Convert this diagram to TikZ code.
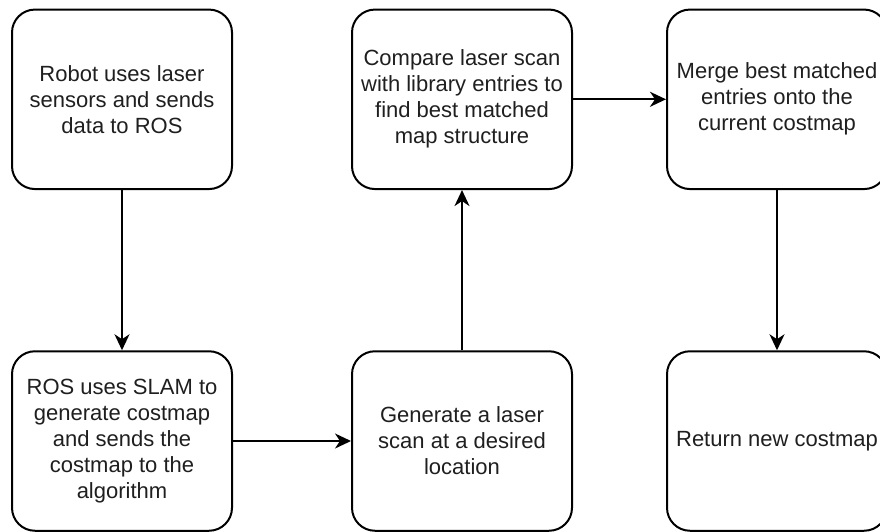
\documentclass[tikz,border=0pt]{standalone}
\usepackage{fontspec}
\setmainfont{Liberation Sans}
\usetikzlibrary{arrows.meta}
\tikzset{
  procbox/.style={draw=black, line width=2pt, rounded corners=23pt, fill=white,
    minimum width=220pt, minimum height=179.5pt, inner sep=0pt, align=center,
    text=black!88, font=\fontsize{22}{26}\selectfont},
  flow/.style={line width=2pt, -{Stealth[length=16pt,width=15pt,inset=5pt]}}
}
\begin{document}
\begin{tikzpicture}[x=1pt,y=-1pt]
\useasboundingbox (0,0) rectangle (880,531);
\clip (0,0) rectangle (880,531);
\fill[white] (0,0) rectangle (880,531);
\node[procbox] (tl) at (122,99.3) {Robot uses laser\\sensors and sends\\data to ROS};
\node[procbox] (bl) at (122,441) {ROS uses SLAM to\\generate costmap\\and sends the\\costmap to the\\algorithm};
\node[procbox] (bm) at (462,441) {Generate a laser\\scan at a desired\\location};
\node[procbox] (tm) at (462,99.3) {Compare laser scan\\with library entries to\\find best matched\\map structure};
\node[procbox] (tr) at (777,99.3) {Merge best matched\\entries onto the\\current costmap};
\node[procbox] (br) at (777,441) {Return new costmap};
\draw[flow] (tl.south) -- (bl.north);
\draw[flow] (bl.east) -- (bm.west);
\draw[flow] (bm.north) -- (tm.south);
\draw[flow] (tm.east) -- (tr.west);
\draw[flow] (tr.south) -- (br.north);
\end{tikzpicture}
\end{document}
